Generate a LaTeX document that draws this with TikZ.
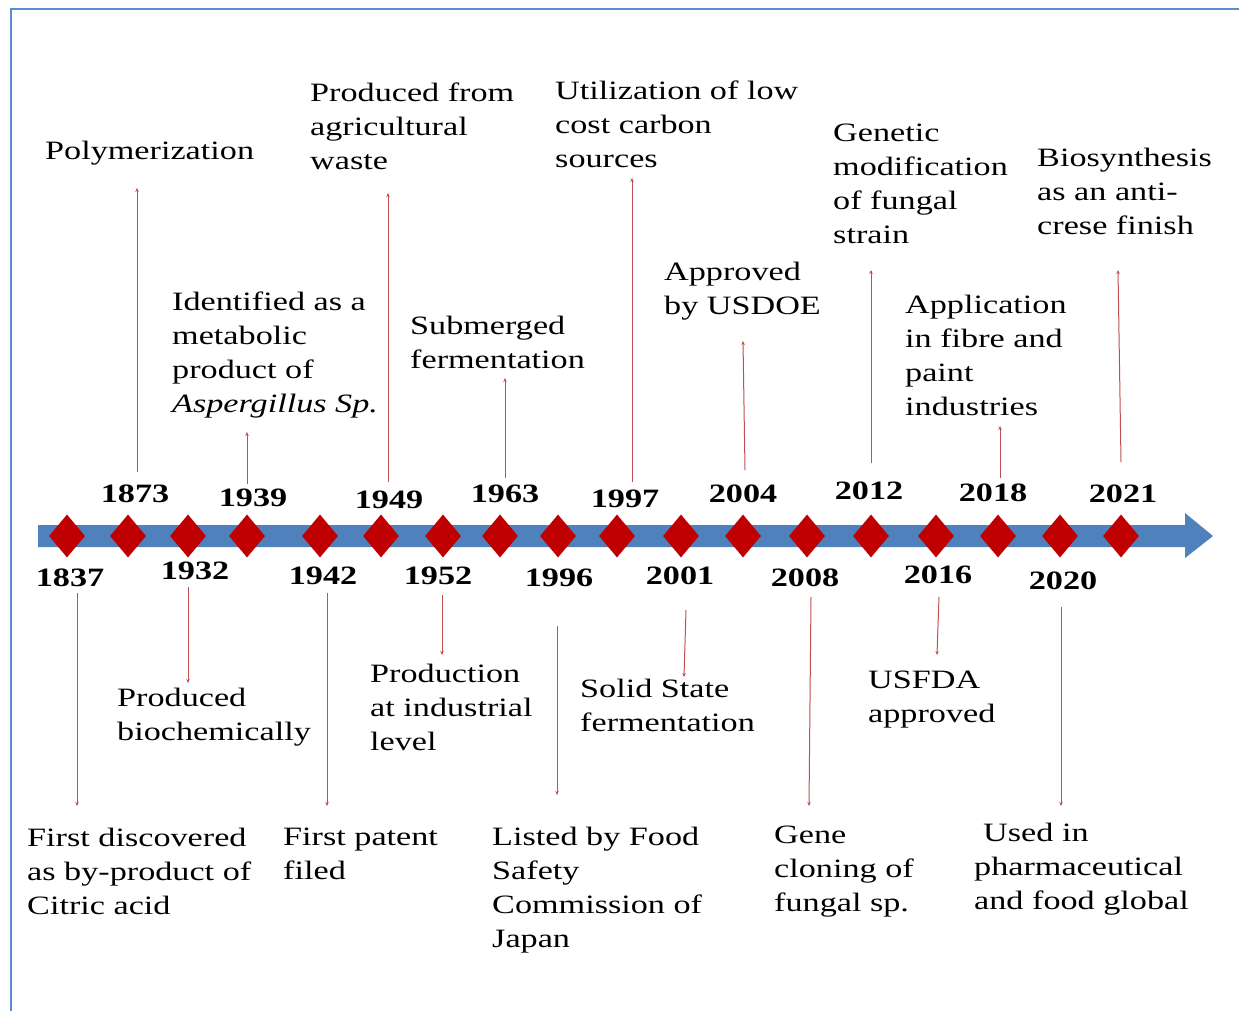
\documentclass[tikz,border=0pt]{standalone}
\usepackage{fontspec}
\setmainfont[FakeStretch=1.29]{Liberation Serif}
\usetikzlibrary{shapes.geometric,arrows.meta}
\definecolor{barblue}{HTML}{4F81BD}
\definecolor{frameblue}{HTML}{5B8BD0}
\definecolor{dred}{HTML}{C00000}
\definecolor{lred}{HTML}{C0504D}
\tikzset{
  evt/.style={anchor=north west, inner sep=0pt, align=left, font=\fontsize{26.5}{34}\selectfont},
  yr/.style={inner sep=0pt, font=\fontsize{26.5}{34}\selectfont\bfseries},
  dmd/.style={diamond, fill=dred, draw=none, minimum width=36pt, minimum height=43pt, inner sep=0pt},
  conn/.style={draw=lred, line width=1pt, -{Stealth[length=4pt,width=3.5pt]}}
}
\begin{document}
\begin{tikzpicture}[x=1pt,y=-1pt]
\useasboundingbox (0,0) rectangle (1239,1010);
\fill[white] (0,0) rectangle (1239,1010);
% frame
\draw[frameblue, line width=2pt] (11,1012) -- (11,9) -- (1241,9);
% timeline bar
\fill[barblue] (38,525) -- (1185,525) -- (1185,513) -- (1213,536) -- (1185,558) -- (1185,547) -- (38,547) -- cycle;
% diamonds
\foreach \n/\x in {1837/67,1873/128,1932/188,1939/247,1942/320,1949/381,1952/443,1963/500,1996/558,1997/617,2001/681,2004/743,2008/807,2012/871,2016/936,2018/998,2020/1060,2021/1121}
  \node[dmd] (d\n) at (\x,536) {};
% years above
\node[yr] (y1873) at (135,494) {1873};
\node[yr] (y1939) at (253,498) {1939};
\node[yr] (y1949) at (389,500) {1949};
\node[yr] (y1963) at (505,494) {1963};
\node[yr] (y1997) at (625,499) {1997};
\node[yr] (y2004) at (743,494) {2004};
\node[yr] (y2012) at (869,491) {2012};
\node[yr] (y2018) at (993,493) {2018};
\node[yr] (y2021) at (1123,494) {2021};
% years below
\node[yr] (y1837) at (70,578) {1837};
\node[yr] (y1932) at (195,571) {1932};
\node[yr] (y1942) at (323,576) {1942};
\node[yr] (y1952) at (438,576) {1952};
\node[yr] (y1996) at (559,578) {1996};
\node[yr] (y2001) at (680,576) {2001};
\node[yr] (y2008) at (805,578) {2008};
\node[yr] (y2016) at (938,575) {2016};
\node[yr] (y2020) at (1063,581) {2020};
% event texts above
\node[evt] (t1873) at (45,141) {Polymerization};
\node[evt] (t1949) at (310,83) {Produced from\\agricultural\\waste};
\node[evt] (t1939) at (172,292) {Identified as a\\metabolic\\product of\\\textit{Aspergillus Sp.}};
\node[evt] (t1963) at (410,316) {Submerged\\fermentation};
\node[evt] (t1997) at (555,81) {Utilization of low\\cost carbon\\sources};
\node[evt] (t2004) at (664,262) {Approved\\by USDOE};
\node[evt] (t2012) at (833,124) {Genetic\\modification\\of fungal\\strain};
\node[evt] (t2018) at (905,295) {Application\\in fibre and\\paint\\industries};
\node[evt] (t2021) at (1037,148) {Biosynthesis\\as an anti-\\crese finish};
% event texts below
\node[evt] (t1932) at (117,688) {Produced\\biochemically};
\node[evt] (t1952) at (370,664) {Production\\at industrial\\level};
\node[evt] (t2001) at (580,679) {Solid State\\fermentation};
\node[evt] (t2016) at (868,671) {USFDA\\approved};
\node[evt] (t1837) at (27,828) {First discovered\\as by-product of\\Citric acid};
\node[evt] (t1942) at (283,828) {First patent\\filed};
\node[evt] (t1996) at (492,827) {Listed by Food\\Safety\\Commission of\\Japan};
\node[evt] (t2008) at (774,826) {Gene\\cloning of\\fungal sp.};
\node[evt] (t2020) at (974,823) {\hspace*{9pt}Used in\\pharmaceutical\\and food global};
% connector end points
\coordinate (s1873) at (137,472); \coordinate (e1873) at (137,188);
\coordinate (s1939) at (247,484); \coordinate (e1939) at (247,432);
\coordinate (s1949) at (388,482); \coordinate (e1949) at (388,193);
\coordinate (s1963) at (505,478); \coordinate (e1963) at (505,378);
\coordinate (s1997) at (632,482); \coordinate (e1997) at (632,178);
\coordinate (s2004) at (745,470); \coordinate (e2004) at (743,341);
\coordinate (s2012) at (871,463); \coordinate (e2012) at (871,270);
\coordinate (s2018) at (1000,478); \coordinate (e2018) at (1000,426);
\coordinate (s2021) at (1121,462); \coordinate (e2021) at (1118,270);
\coordinate (s1837) at (77,593); \coordinate (e1837) at (77,806);
\coordinate (s1932) at (188,587); \coordinate (e1932) at (188,683);
\coordinate (s1942) at (327,593); \coordinate (e1942) at (327,806);
\coordinate (s1952) at (442,595); \coordinate (e1952) at (442,655);
\coordinate (s1996) at (557,626); \coordinate (e1996) at (557,795);
\coordinate (s2001) at (686,610); \coordinate (e2001) at (684,677);
\coordinate (s2008) at (811,597); \coordinate (e2008) at (809,806);
\coordinate (s2016) at (939,597); \coordinate (e2016) at (937,655);
\coordinate (s2020) at (1061,607); \coordinate (e2020) at (1061,806);
\foreach \n in {1873,1939,1949,1963,1997,2004,2012,2018,2021,1837,1932,1942,1952,1996,2001,2008,2016,2020}
  \draw[conn] (s\n) -- (e\n);
\end{tikzpicture}
\end{document}
